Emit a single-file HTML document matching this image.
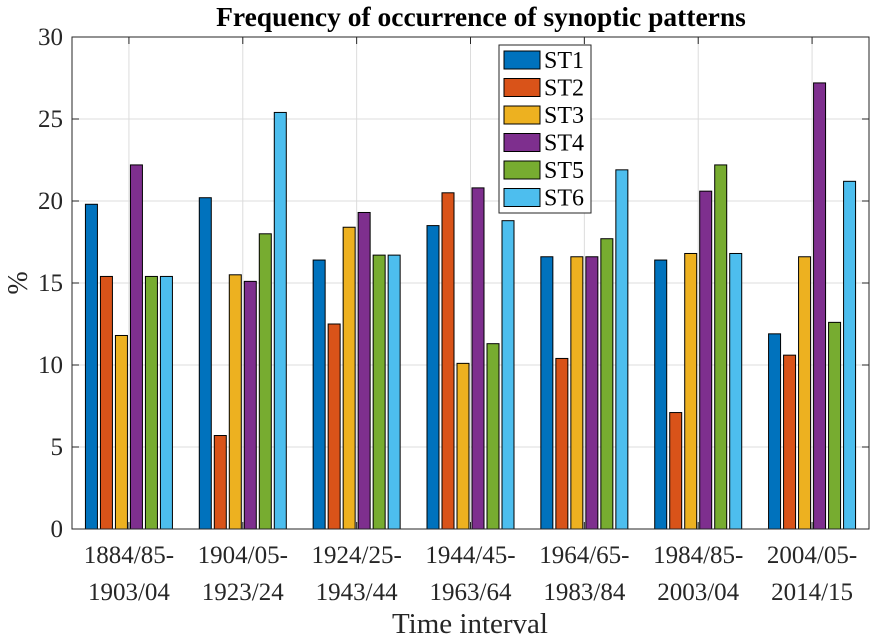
<!DOCTYPE html>
<html><head><meta charset="utf-8"><style>
body{margin:0;background:#fff;}
svg{display:block;font-family:"Liberation Serif",serif;}
</style></head><body>
<svg id="chart" width="874" height="639"></svg>
<script>
const categoriesTop = ["1884/85-","1904/05-","1924/25-","1944/45-","1964/65-","1984/85-","2004/05-"];
const categoriesBottom = ["1903/04","1923/24","1943/44","1963/64","1983/84","2003/04","2014/15"];
const seriesNames = ["ST1","ST2","ST3","ST4","ST5","ST6"];
const st1 = [19.8,20.2,16.4,18.5,16.6,16.4,11.9];
const st2 = [15.4,5.7,12.5,20.5,10.4,7.1,10.6];
const st3 = [11.8,15.5,18.4,10.1,16.6,16.8,16.6];
const st4 = [22.2,15.1,19.3,20.8,16.6,20.6,27.2];
const st5 = [15.4,18.0,16.7,11.3,17.7,22.2,12.6];
const st6 = [15.4,25.4,16.7,18.8,21.9,16.8,21.2];
const yTicks = [0,5,10,15,20,25,30];
const colors = ["#0072BD","#D95319","#EDB120","#7E2F8E","#77AC30","#4DBEEE"];
const series = [st1,st2,st3,st4,st5,st6];

const NS="http://www.w3.org/2000/svg";
const svg=document.getElementById('chart');
const L=72,R=869,T=37,B=529;
const xs=i=>L+(i+0.5)*(R-L)/7;
const ys=v=>B-(v/30)*(B-T);
function mk(tag,attrs,parent){const e=document.createElementNS(NS,tag);for(const k in attrs)e.setAttribute(k,attrs[k]);(parent||svg).appendChild(e);return e;}

mk('rect',{x:L,y:T,width:R-L,height:B-T,fill:'#fff'});
const grid=mk('g',{});


yTicks.forEach(t=>{mk('line',{x1:L,x2:R,y1:ys(t),y2:ys(t),stroke:'#dcdcdc','stroke-width':1},grid);});
categoriesTop.forEach((c,i)=>{mk('line',{x1:xs(i),x2:xs(i),y1:T,y2:B,stroke:'#dcdcdc','stroke-width':1},grid);});

const bw=12, step=15;
series.forEach((s,si)=>{
  s.forEach((v,i)=>{
    const cx=xs(i)+(si-2.5)*step;
    const r=mk('rect',{x:cx-bw/2,y:ys(v),width:bw,height:B-ys(v),fill:colors[si],stroke:'#000','stroke-width':1});
    
    
  });
});

mk('rect',{x:L,y:T,width:R-L,height:B-T,fill:'none',stroke:'#262626','stroke-width':1});
const axes=mk('g',{});


yTicks.forEach(t=>{
  mk('line',{x1:L,x2:L+7,y1:ys(t),y2:ys(t),stroke:'#262626'},axes);
  mk('line',{x1:R,x2:R-7,y1:ys(t),y2:ys(t),stroke:'#262626'},axes);
  const tx=mk('text',{x:L-9,y:ys(t)+8,'text-anchor':'end','font-size':25,fill:'#262626'},axes);
  tx.textContent=t;
  
  
});
categoriesTop.forEach((c,i)=>{
  mk('line',{x1:xs(i),x2:xs(i),y1:B,y2:B-7,stroke:'#262626'},axes);
  mk('line',{x1:xs(i),x2:xs(i),y1:T,y2:T+7,stroke:'#262626'},axes);
  const t1=mk('text',{x:xs(i),y:563,'text-anchor':'middle','font-size':25,fill:'#262626'},axes);
  t1.textContent=c;
  
  
  const t2=mk('text',{x:xs(i),y:600,'text-anchor':'middle','font-size':25,fill:'#262626'},axes);
  t2.textContent=categoriesBottom[i];
  
  
});
</script>
<script>
(function(){
const svg=document.getElementById('chart');const NS="http://www.w3.org/2000/svg";
function mk(tag,attrs,parent){const e=document.createElementNS(NS,tag);for(const k in attrs)e.setAttribute(k,attrs[k]);(parent||svg).appendChild(e);return e;}
const title=mk('text',{x:481,y:26,'text-anchor':'middle','font-size':27.5,'font-weight':'bold',fill:'#000'});
title.textContent='Frequency of occurrence of synoptic patterns';


const xt=mk('text',{x:470,y:633,'text-anchor':'middle','font-size':29,fill:'#262626'});
xt.textContent='Time interval';


const yt=mk('text',{x:0,y:0,'text-anchor':'middle','font-size':28,fill:'#262626',transform:'translate(27,283) rotate(-90)'});
yt.textContent='%';


const lg=mk('g',{});


mk('rect',{x:499,y:45,width:92,height:168,fill:'#fff',stroke:'#262626','stroke-width':1},lg);
seriesNames.forEach((n,i)=>{
  const y=51+i*27.5;
  const e=mk('g',{},lg);
  
  
  mk('rect',{x:504,y:y,width:36,height:18,fill:colors[i],stroke:'#000'},e);
  const t=mk('text',{x:544,y:y+17,'font-size':24,fill:'#000'},e);
  t.textContent=n;
});
})();
</script>
</body></html>
